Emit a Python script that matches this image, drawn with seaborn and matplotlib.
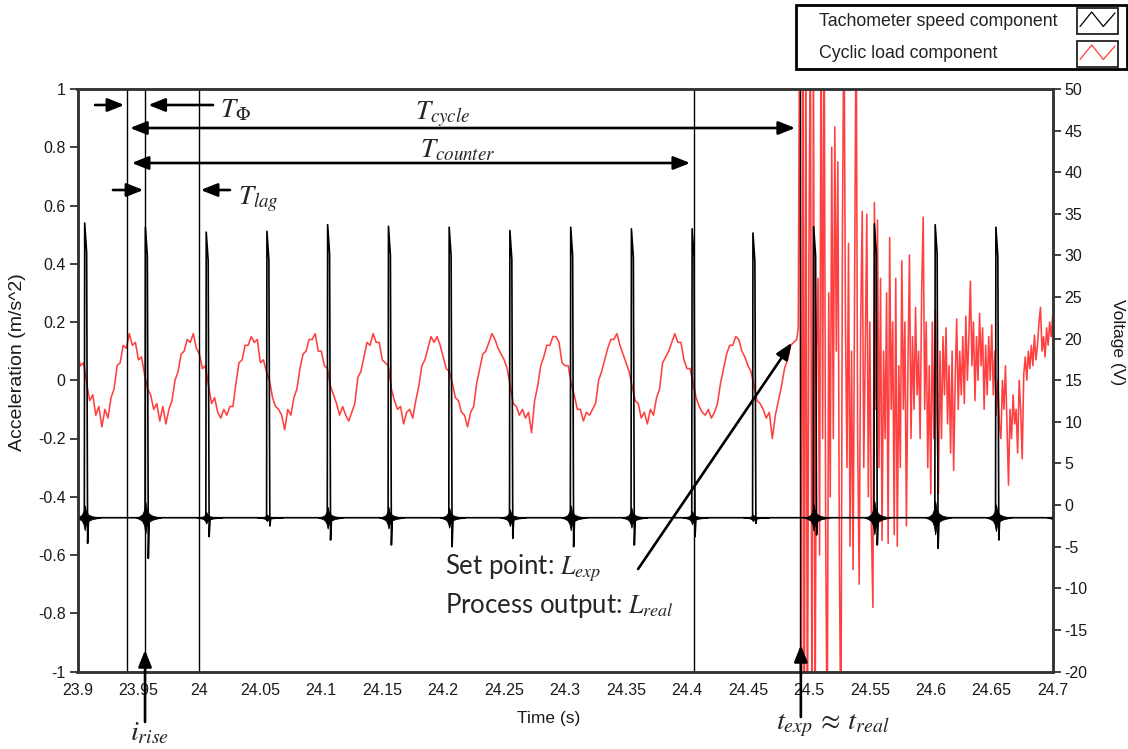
import numpy as np
import matplotlib
matplotlib.use("Agg")
import matplotlib.pyplot as plt
import seaborn as sns
from matplotlib.patches import Rectangle
from matplotlib.lines import Line2D

sns.set_theme(style="white")
plt.rcParams['font.family'] = ['Liberation Sans', 'DejaVu Sans']
plt.rcParams['axes.unicode_minus'] = False
plt.rcParams['mathtext.fontset'] = 'stix'

# ---------------- data ----------------
t_start, t_end = 23.9, 24.7
t_unstable = 24.49

# cyclic load component (acceleration, m/s^2), sampled every 2.5 ms from 23.9 s to 24.4875 s
red_cyclic_acc = [
    0.09, 0.05, 0.06, -0.01, -0.07, -0.05, -0.12, -0.09, -0.16, -0.10, -0.13, -0.06, -0.03, 0.05, 0.06, 0.12, 0.11, 0.16, 0.12, 0.13,
    0.07, 0.08, 0.02, -0.03, -0.05, -0.10, -0.08, -0.14, -0.09, -0.15, -0.10, -0.07, 0.00, 0.03, 0.09, 0.10, 0.14, 0.13, 0.16, 0.11,
    0.09, 0.04, 0.05, -0.02, -0.08, -0.06, -0.11, -0.13, -0.10, -0.12, -0.09, -0.09, -0.01, 0.06, 0.07, 0.12, 0.12, 0.15, 0.13, 0.14,
    0.06, 0.07, 0.03, 0.00, -0.06, -0.09, -0.10, -0.12, -0.17, -0.10, -0.12, -0.06, -0.03, 0.04, 0.09, 0.10, 0.14, 0.14, 0.16, 0.10,
    0.10, 0.05, 0.04, -0.02, -0.05, -0.08, -0.12, -0.09, -0.12, -0.14, -0.11, -0.08, 0.01, 0.03, 0.08, 0.13, 0.12, 0.16, 0.13, 0.13,
    0.07, 0.06, 0.05, -0.03, -0.07, -0.10, -0.09, -0.15, -0.11, -0.10, -0.13, -0.07, -0.02, 0.05, 0.07, 0.11, 0.15, 0.13, 0.15, 0.12,
    0.08, 0.04, 0.03, -0.01, -0.06, -0.07, -0.11, -0.12, -0.16, -0.11, -0.09, -0.01, 0.04, 0.09, 0.10, 0.13, 0.16, 0.14, 0.11,
    0.09, 0.07, 0.04, -0.02, -0.08, -0.09, -0.12, -0.10, -0.13, -0.11, -0.18, -0.07, -0.02, 0.05, 0.08, 0.12, 0.12, 0.15, 0.15, 0.13,
    0.06, 0.05, 0.05, -0.01, -0.05, -0.10, -0.10, -0.14, -0.11, -0.12, -0.10, -0.08, 0.00, 0.03, 0.07, 0.11, 0.14, 0.14, 0.16, 0.12,
    0.09, 0.06, 0.03, -0.02, -0.07, -0.08, -0.13, -0.11, -0.15, -0.10, -0.12, -0.06, -0.03, 0.06, 0.08, 0.10, 0.13, 0.16, 0.13, 0.13,
    0.07, 0.04, 0.04, -0.01, -0.06, -0.09, -0.11, -0.12, -0.10, -0.13, -0.11, -0.08, -0.01, 0.04, 0.09, 0.12, 0.12, 0.15, 0.14, 0.10,
    0.08, 0.05, 0.03, -0.02, -0.07, -0.08, -0.10, -0.13, -0.11, -0.20, -0.12, -0.07, -0.02, 0.04, 0.07, 0.12, 0.13,
]
# unstable part after the set point change, sampled every 1.25 ms from 24.49 s to 24.7 s
red_unstable_acc = [
    0.14, 0.18, 1.40, -1.40, 1.40, -1.30, 1.30, -1.40, 0.40, 1.30,
    -1.30, 1.20, -1.30, 0.10, 0.35, -0.60, 1.30, -0.20, 1.30, -0.50,
    -1.30, 0.30, -0.40, 0.80, -0.20, 0.87, 0.10, 0.75, -0.60, -1.30,
    0.50, 1.30, 0.20, -0.30, 0.47, -0.57, 0.10, -0.65, 0.30, 1.30,
    -0.20, -0.70, 0.20, 0.58, -0.30, 0.10, 0.57, -0.40, 0.20, -0.50,
    -0.78, 0.61, -0.10, 0.55, -0.30, 0.35, -0.55, 0.10, -0.20, 0.30,
    -0.56, 0.49, -0.10, 0.20, -0.53, 0.35, -0.57, 0.05, -0.30, 0.41,
    -0.10, 0.20, -0.50, 0.05, 0.43, -0.20, 0.15, -0.10, 0.25, -0.05,
    0.10, -0.20, 0.30, 0.56, -0.10, 0.20, -0.30, 0.05, -0.39, 0.20,
    -0.20, 0.24, -0.10, -0.39, 0.10, -0.20, 0.15, -0.05, 0.18, -0.15,
    0.05, -0.25, 0.10, -0.31, 0.00, 0.21, -0.10, 0.10, -0.05, 0.15,
    -0.08, 0.22, 0.00, 0.15, 0.34, 0.05, 0.20, -0.07, 0.15, 0.00,
    0.23, 0.05, 0.18, -0.10, 0.12, -0.05, 0.15, 0.00, 0.19, -0.05,
    0.10, -0.12, 0.00, -0.15, -0.20, 0.00, -0.10, 0.05, -0.15, -0.36,
    -0.10, -0.20, -0.05, -0.15, -0.10, -0.25, 0.00, -0.10, -0.27, 0.02,
    0.08, 0.00, 0.10, 0.04, 0.12, 0.05, 0.155, 0.07, 0.12, 0.20,
    0.25, 0.10, 0.15, 0.08, 0.18, 0.12, 0.20, 0.15, 0.22,
]

# tachometer speed component (voltage, V)
tach_baseline_V = -1.52
spike_t = [23.9059, 23.9557, 24.0056, 24.0554, 24.1052, 24.1551, 24.2049, 24.2547, 24.3046,
           24.3544, 24.4042, 24.4541, 24.5039, 24.5537, 24.6036, 24.6534, 24.7032]
spike_peak_V = [33.9, 33.4, 32.8, 32.9, 33.7, 33.5, 33.4, 33.0, 33.4, 33.2, 33.2, 32.7,
                33.45, 33.8, 33.7, 33.4, 33.4]
spike_trough_V = [-4.6, -6.4, -3.8, -2.5, -4.2, -4.8, -5.0, -4.0, -5.0, -4.8, -3.8, -2.2,
                  -3.6, -4.8, -5.2, -4.2, -4.0]
burst_amp_V = [1.5, 1.9, 0.7, 0.4, 1.3, 1.3, 1.2, 1.0, 1.5, 1.2, 0.8, 0.4, 1.6, 2.0, 2.0, 1.6, 1.0]
# shape of one pulse: time offsets (s) and fraction of peak (+) / trough (-)
pulse_offsets = [-0.0003, 0.0, 0.0016, 0.0024, 0.0032]
pulse_fraction = [0.0, 1.0, 0.9, -1.0, 0.0]
# envelope of the ringing burst around each pulse
burst_offsets = [-0.008, -0.005, -0.0025, -0.001, 0.0, 0.001, 0.003, 0.006, 0.010, 0.013]
burst_envelope = [0.0, 0.08, 0.22, 0.5, 1.0, 0.55, 0.25, 0.12, 0.04, 0.0]

# cursors
cursor_t = [23.9404, 23.9556, 24.0, 24.4057, 24.4928]

x_tick_vals = [23.9, 23.95, 24.0, 24.05, 24.1, 24.15, 24.2, 24.25, 24.3, 24.35, 24.4, 24.45, 24.5, 24.55, 24.6, 24.65, 24.7]
x_tick_labels = ["23.9", "23.95", "24", "24.05", "24.1", "24.15", "24.2", "24.25", "24.3", "24.35", "24.4",
                 "24.45", "24.5", "24.55", "24.6", "24.65", "24.7"]
yl_tick_vals = [-1, -0.8, -0.6, -0.4, -0.2, 0, 0.2, 0.4, 0.6, 0.8, 1]
yl_tick_labels = ["-1", "-0.8", "-0.6", "-0.4", "-0.2", "0", "0.2", "0.4", "0.6", "0.8", "1"]
yr_tick_vals = [-20, -15, -10, -5, 0, 5, 10, 15, 20, 25, 30, 35, 40, 45, 50]
yr_tick_labels = ["-20", "-15", "-10", "-5", "0", "5", "10", "15", "20", "25", "30", "35", "40", "45", "50"]

# ---------------- build series ----------------
red_t = np.concatenate([
    np.linspace(t_start, t_unstable - 0.0025, len(red_cyclic_acc)),
    np.linspace(t_unstable, t_end, len(red_unstable_acc)),
])
red_acc = np.array(red_cyclic_acc + red_unstable_acc)

bt = [t_start]
bv = [tach_baseline_V]
for ts, pk, tr in zip(spike_t, spike_peak_V, spike_trough_V):
    for off, f in zip(pulse_offsets, pulse_fraction):
        bt.append(ts + off)
        if f >= 0:
            bv.append(tach_baseline_V + f * (pk - tach_baseline_V))
        else:
            bv.append(tach_baseline_V - f * (tr - tach_baseline_V))
bt = np.array(bt)
bv = np.array(bv)

# ---------------- figure ----------------
W, H = 1128, 749
fig = plt.figure(figsize=(W / 100, H / 100), dpi=100)
L, R, T, B = 77.5, 1052.7, 89.0, 671.5
ax = fig.add_axes([L / W, 1 - B / H, (R - L) / W, (B - T) / H])
ax2 = ax.twinx()

red_col = '#ff4040'
sns.lineplot(x=red_t, y=red_acc, ax=ax, color=red_col, lw=1.15, sort=False, estimator=None, legend=False)
sns.lineplot(x=bt, y=bv, ax=ax2, color='black', lw=1.2, sort=False, estimator=None, legend=False)
for ts, a in zip(spike_t, burst_amp_V):
    tt = ts + np.array(burst_offsets)
    env = np.array(burst_envelope) * a
    ax2.fill_between(tt, tach_baseline_V - env, tach_baseline_V + env, color='black', lw=0.6)

for ct in cursor_t:
    ax2.axvline(ct, color='black', lw=1.0)

ax.set_xlim(t_start, t_end)
ax.set_ylim(-1, 1)
ax2.set_ylim(-20, 50)
ax.set_xticks(x_tick_vals)
ax.set_xticklabels(x_tick_labels)
ax.set_yticks(yl_tick_vals)
ax.set_yticklabels(yl_tick_labels)
ax2.set_yticks(yr_tick_vals)
ax2.set_yticklabels(yr_tick_labels)

tick_col = '#1a1a1a'
for a in (ax, ax2):
    a.tick_params(axis='both', direction='out', length=6, width=1.3, color='#333333',
                  labelsize=11.5, labelcolor=tick_col, pad=2.5)
    for s in a.spines.values():
        s.set_color('#333333')
        s.set_linewidth(1.8)
ax2.tick_params(axis='x', bottom=False, labelbottom=False)

lab_kw = dict(fontsize=12.5, color=tick_col)
ax.set_xlabel('Time (s)', **lab_kw)
ax.xaxis.label.set_va('center')
ax.xaxis.set_label_coords((549 - L) / (R - L), (B - 718) / (B - T))
ax.set_ylabel('Acceleration (m/s^2)', fontsize=14, color=tick_col)
ax.yaxis.label.set_va('center')
ax.yaxis.label.set_ha('center')
ax.yaxis.set_label_coords((18 - L) / (R - L), (B - 362) / (B - T))
ax2.set_ylabel('Voltage (V)', rotation=270, **lab_kw)
ax2.yaxis.label.set_va('center')
ax2.yaxis.label.set_ha('center')
ax2.yaxis.set_label_coords((1117 - L) / (R - L), (B - 342) / (B - T))

# ---------------- annotations ----------------
tr_x = ax.get_xaxis_transform()


def yf(ypx):
    return (B - ypx) / (B - T)


def arrow(x0, y0, x1, y1, style='-|>'):
    ax2.annotate('', xy=(x1, yf(y1)), xytext=(x0, yf(y0)), xycoords=tr_x, textcoords=tr_x,
                 annotation_clip=False,
                 arrowprops=dict(arrowstyle=style + ',head_length=1.0,head_width=0.4',
                                 mutation_scale=10, lw=1.9, color='black',
                                 shrinkA=0, shrinkB=0))


math_size = 19.5
# T_phi
arrow(23.9144, 105, 23.9384, 105)
arrow(24.0112, 105, 23.9581, 105)
ax2.text(24.0171, yf(110), r'$T_{\Phi}$', transform=tr_x, fontsize=math_size, ha='left', va='center')
# T_cycle
arrow(23.9431, 128, 24.4887, 128, style='<|-|>')
ax2.text(24.2000, yf(114), r'$T_{cycle}$', transform=tr_x, fontsize=math_size, ha='center', va='center')
# T_counter
arrow(23.9445, 163, 24.4026, 163, style='<|-|>')
ax2.text(24.2122, yf(150), r'$T_{counter}$', transform=tr_x, fontsize=math_size, ha='center', va='center')
# T_lag
arrow(23.9291, 190, 23.9540, 190)
arrow(24.0251, 190, 24.0011, 190)
ax2.text(24.0317, yf(199), r'$T_{lag}$', transform=tr_x, fontsize=math_size, ha='left', va='center')
# i_rise
arrow(23.9554, 722, 23.9554, 650)
ax2.text(23.9595, yf(733), r'$i_{rise}$', transform=tr_x, fontsize=math_size + 1, ha='center', va='center',
         clip_on=False)
# t_exp ~ t_real
arrow(24.4934, 717, 24.4934, 645)
ax2.text(24.5195, yf(726), r'$t_{exp}\,\approx\,t_{real}$', transform=tr_x, fontsize=math_size + 1,
         ha='center', va='center', clip_on=False)
# set point
arrow(24.3599, 569, 24.4860, 342.7)
txt_kw = dict(fontsize=18.5, family=['Lato', 'DejaVu Sans'], ha='left', va='center', transform=tr_x)
ax2.text(24.2015, yf(568), r'Set point: $L_{exp}$', **txt_kw)
ax2.text(24.2015, yf(605), r'Process output: $L_{real}$', **txt_kw)

# ---------------- legend (drawn in figure pixels) ----------------
def fx(x):
    return x / W


def fy(y):
    return 1 - y / H


fig.patches.append(Rectangle((fx(796), fy(69)), fx(1127) - fx(796), fy(5) - fy(69),
                             transform=fig.transFigure, fill=False, edgecolor='black', lw=2.0))
leg_font = dict(fontsize=12.8, color='#222222', va='center', ha='left')
fig.text(fx(819), fy(21.5), 'Tachometer speed component', **leg_font)
fig.text(fx(819), fy(53.5), 'Cyclic load component', **leg_font)
for y0, col in ((8, 'black'), (41, red_col)):
    fig.patches.append(Rectangle((fx(1077), fy(y0 + 26)), fx(1118) - fx(1077), fy(y0) - fy(y0 + 26),
                                 transform=fig.transFigure, fill=False, edgecolor='#222222', lw=1.3))
    zx = [1080, 1091.7, 1103.3, 1115]
    zy = [y0 + 18.5, y0 + 4, y0 + 18.5, y0 + 5]
    fig.lines.append(Line2D([fx(v) for v in zx], [fy(v) for v in zy], transform=fig.transFigure,
                            color=col, lw=0.9))

fig.savefig('out.png', dpi=100)
